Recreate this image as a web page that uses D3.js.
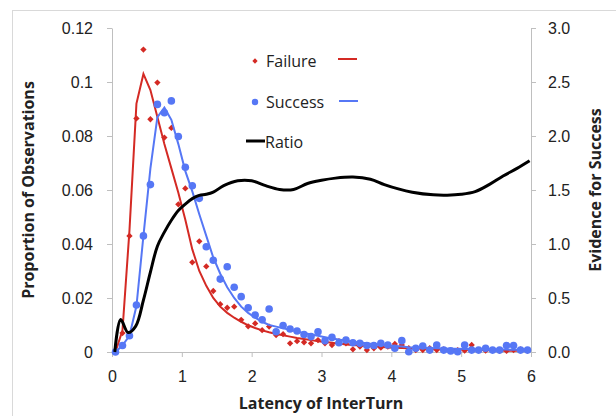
<!DOCTYPE html>
<html>
<head>
<meta charset="utf-8">
<script src="https://cdn.jsdelivr.net/npm/d3@7"></script>
<style>
  body { margin: 0; background: #fff; }
  svg { display: block; font-family: 'Open Sans', sans-serif; }
</style>
</head>
<body>
<svg id="canvas" width="616" height="416"></svg>
<script>
// bin centres (latency, s)
let bins = d3.range(60).map(k => +(0.05 + 0.1 * k).toFixed(2))

let failurePts = [0.000, 0.007, 0.043, 0.0865, 0.112, 0.0862, 0.0998, 0.0794, 0.083, 0.0547,
  0.0606, 0.0332, 0.041, 0.0317, 0.0226, 0.0177, 0.0164, 0.0168, 0.0119, 0.0095,
  0.0106, 0.0081, 0.0094, 0.0063, 0.0066, 0.0032, 0.004, 0.0036, 0.0032, 0.0044,
  0.0032, 0.0026, 0.004, 0.0032, 0.001, 0.002, 0.0007, 0.0014, 0.0016, 0.002,
  0.003, 0.0026, 0.0014, 0.0007, 0.0007, 0.0014, 0.0007, 0.001, 0.0005, 0.0007,
  0.0005, 0.0026, 0.0007, 0.0005, 0.0007, 0.0004, 0.0004, 0.0007, 0.001, 0.0005]

let successPts = [0.000, 0.0024, 0.006, 0.0174, 0.043, 0.062, 0.0917, 0.0886, 0.093, 0.0798,
  0.0684, 0.0616, 0.0569, 0.039, 0.034, 0.027, 0.0316, 0.024, 0.0205, 0.0164,
  0.0137, 0.0119, 0.0159, 0.0075, 0.0098, 0.0085, 0.0078, 0.0065, 0.0057, 0.0075,
  0.0042, 0.0054, 0.0034, 0.0044, 0.0034, 0.0032, 0.0024, 0.0024, 0.0032, 0.0026,
  0.0014, 0.0042, 0.0001, 0.0014, 0.0022, 0.0007, 0.0026, 0.0007, 0.0004, 0.0001,
  0.0026, 0.0007, 0.0007, 0.0014, 0.0007, 0.0007, 0.0024, 0.0024, 0.0007, 0.0007]

let failureFit = [0.000, 0.008, 0.045, 0.092, 0.103, 0.097, 0.087, 0.077, 0.068, 0.059,
  0.049, 0.038, 0.030, 0.0245, 0.020, 0.0168, 0.0145, 0.0127, 0.0112, 0.0099,
  0.0089, 0.008, 0.0073, 0.0067, 0.0062, 0.0057, 0.0052, 0.0048, 0.0044, 0.004,
  0.0037, 0.0034, 0.0031, 0.0028, 0.0026, 0.0024, 0.0022, 0.002, 0.0019, 0.0017,
  0.0016, 0.0015, 0.0014, 0.0013, 0.0012, 0.0011, 0.001, 0.001, 0.0009, 0.0009,
  0.0008, 0.0008, 0.0007, 0.0007, 0.0006, 0.0006, 0.0005, 0.0005, 0.0005, 0.0004]

let successFit = [0.000, 0.0025, 0.006, 0.017, 0.043, 0.068, 0.087, 0.0905, 0.086, 0.077,
  0.067, 0.0595, 0.051, 0.043, 0.035, 0.029, 0.024, 0.020, 0.0168, 0.0145,
  0.0127, 0.0112, 0.010, 0.0094, 0.0088, 0.0082, 0.0076, 0.007, 0.0065, 0.006,
  0.0055, 0.005, 0.0046, 0.0042, 0.0038, 0.0035, 0.0032, 0.0029, 0.0026, 0.0024,
  0.0022, 0.002, 0.0018, 0.0017, 0.0016, 0.0015, 0.0014, 0.0013, 0.0012, 0.0012,
  0.0011, 0.0011, 0.001, 0.001, 0.0009, 0.0009, 0.0009, 0.0008, 0.0008, 0.0008]

let ratioX = [0.04, 0.125, 0.23, 0.34, 0.45, 0.55, 0.65, 0.75, 0.85, 0.95, 1.05, 1.15, 1.25, 1.35,
  1.45, 1.6, 1.8, 2.0, 2.2, 2.4, 2.6, 2.8, 3.0, 3.2, 3.45, 3.7, 3.9, 4.1, 4.3, 4.6, 4.8,
  5.0, 5.2, 5.4, 5.6, 5.8, 5.98]
let ratioY = [0, 0.30, 0.18, 0.24, 0.48, 0.74, 0.98, 1.11, 1.22, 1.31, 1.37, 1.42, 1.45, 1.46,
  1.48, 1.54, 1.585, 1.585, 1.54, 1.505, 1.505, 1.56, 1.59, 1.61, 1.62, 1.6, 1.55, 1.51, 1.48,
  1.455, 1.452, 1.46, 1.485, 1.55, 1.63, 1.70, 1.77]

let xTicks = [0, 1, 2, 3, 4, 5, 6]
let yTicks = [0, 0.02, 0.04, 0.06, 0.08, 0.1, 0.12]
let rTicks = [0, 0.5, 1.0, 1.5, 2.0, 2.5, 3.0]

let red = '#d42a24'
let blue = '#5677f5'
let axisGrey = '#bfbfbf'

let canvas = d3.select('#canvas')

// outer chart border
canvas.append('rect')
  .attr('x', 12.5).attr('y', 10.5)
  .attr('width', 640).attr('height', 440)
  .attr('fill', 'none').attr('stroke', '#d9d9d9')

let xScale = d3.scaleLinear().domain([0, 6]).range([112, 531])
let yScale = d3.scaleLinear().domain([0, 0.12]).range([352, 28])
let rScale = d3.scaleLinear().domain([0, 3]).range([352, 28])

let styleAxis = (g) => {
  g.select('.domain').attr('stroke', axisGrey)
  g.selectAll('.tick line').attr('stroke', axisGrey)
  g.selectAll('.tick text').attr('fill', '#222').style('font-size', '16px')
}

canvas.append('g')
  .attr('transform', 'translate(0,352)')
  .call(d3.axisBottom(xScale).tickValues(xTicks).tickSize(5).tickSizeOuter(0).tickPadding(14).tickFormat(d3.format('d')))
  .call(styleAxis)

canvas.append('g')
  .attr('transform', 'translate(112,0)')
  .call(d3.axisLeft(yScale).tickValues(yTicks).tickSize(5).tickSizeOuter(0).tickPadding(14)
    .tickFormat(d => d === 0 ? '0' : String(+d.toFixed(2))))
  .call(styleAxis)

canvas.append('g')
  .attr('transform', 'translate(531,0)')
  .call(d3.axisRight(rScale).tickValues(rTicks).tickSize(5).tickSizeOuter(0).tickPadding(12).tickFormat(d3.format('.1f')))
  .call(styleAxis)

// axis titles
canvas.append('text')
  .attr('x', 321).attr('y', 409)
  .attr('text-anchor', 'middle')
  .style('font-size', '16px').style('font-weight', 'bold').attr('fill', '#222')
  .text('Latency of InterTurn')

canvas.append('text')
  .attr('transform', 'translate(34,190) rotate(-90)')
  .attr('text-anchor', 'middle')
  .style('font-size', '16px').style('font-weight', 'bold').attr('fill', '#222')
  .text('Proportion of Observations')

canvas.append('text')
  .attr('transform', 'translate(601,190) rotate(-90)')
  .attr('text-anchor', 'middle')
  .style('font-size', '16px').style('font-weight', 'bold').attr('fill', '#222')
  .text('Evidence for Success')

let lineGen = d3.line()
  .x(d => xScale(d[0]))
  .y(d => yScale(d[1]))

let redMark = d3.symbol().type(d3.symbolSquare).size(20)

// failure
canvas.append('g').selectAll('path')
  .data(bins.map((b, i) => [b, failurePts[i]]))
  .enter()
  .append('path')
  .attr('d', redMark)
  .attr('transform', d => 'translate(' + xScale(d[0]) + ',' + yScale(d[1]) + ') rotate(45)')
  .attr('fill', red)

canvas.append('path')
  .datum(bins.map((b, i) => [b, failureFit[i]]))
  .attr('d', lineGen)
  .attr('fill', 'none').attr('stroke', red).attr('stroke-width', 2)

// success
canvas.append('g').selectAll('circle')
  .data(bins.map((b, i) => [b, successPts[i]]))
  .enter()
  .append('circle')
  .attr('cx', d => xScale(d[0]))
  .attr('cy', d => yScale(d[1]))
  .attr('r', 3.8)
  .attr('fill', blue)

canvas.append('path')
  .datum(bins.map((b, i) => [b, successFit[i]]))
  .attr('d', lineGen)
  .attr('fill', 'none').attr('stroke', blue).attr('stroke-width', 2)

// ratio
canvas.append('path')
  .datum(ratioX.map((x, i) => [x, ratioY[i]]))
  .attr('d', d3.line().x(d => xScale(d[0])).y(d => rScale(d[1])).curve(d3.curveCatmullRom.alpha(0.5)))
  .attr('fill', 'none').attr('stroke', '#000').attr('stroke-width', 3)

// legend
let legend = canvas.append('g')
legend.append('path')
  .attr('d', d3.symbol().type(d3.symbolSquare).size(14))
  .attr('transform', 'translate(255,61) rotate(45)').attr('fill', red)
legend.append('text').attr('x', 266).attr('y', 67).style('font-size', '16px').attr('fill', '#222').text('Failure')
legend.append('line').attr('x1', 338).attr('x2', 357).attr('y1', 59).attr('y2', 59).attr('stroke', red).attr('stroke-width', 2)

legend.append('circle').attr('cx', 255).attr('cy', 102).attr('r', 3.2).attr('fill', blue)
legend.append('text').attr('x', 266).attr('y', 108).style('font-size', '16px').attr('fill', '#222').text('Success')
legend.append('line').attr('x1', 339).attr('x2', 358).attr('y1', 101).attr('y2', 101).attr('stroke', blue).attr('stroke-width', 2)

legend.append('line').attr('x1', 246).attr('x2', 265).attr('y1', 141).attr('y2', 141).attr('stroke', '#000').attr('stroke-width', 3)
legend.append('text').attr('x', 265).attr('y', 148).style('font-size', '16px').attr('fill', '#222').text('Ratio')
</script>
</body>
</html>
